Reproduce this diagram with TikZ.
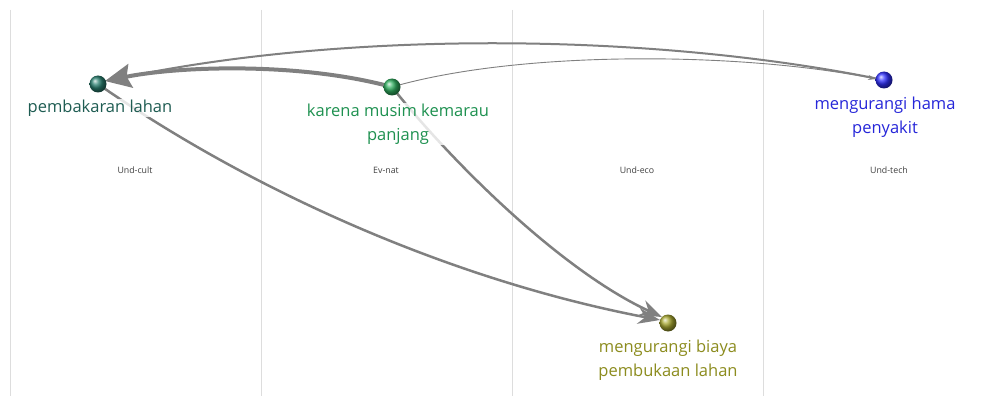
\documentclass[tikz,border=0pt]{standalone}
\usepackage{fontspec}
\setmainfont{Open Sans}
\usetikzlibrary{arrows.meta}
\definecolor{cCult}{HTML}{1E5C52}
\definecolor{cNat}{HTML}{1E9150}
\definecolor{cTech}{HTML}{2626D9}
\definecolor{cEco}{HTML}{8C8C1E}
\definecolor{cBallCult}{HTML}{2A8070}
\definecolor{cBallNat}{HTML}{30B060}
\definecolor{cBallTech}{HTML}{3030FF}
\definecolor{cBallEco}{HTML}{A8A830}
\definecolor{edge}{HTML}{808080}
\definecolor{grid}{HTML}{DDDDDD}
\tikzset{
  ball/.style={circle,minimum size=17pt,inner sep=0pt,shading=ball},
  lbl/.style={align=center,font=\fontsize{16.5}{23.5}\selectfont,fill=white,fill opacity=0.8,text opacity=1,inner sep=1pt},
  col/.style={font=\fontsize{8.8}{10}\selectfont,text=black!75},
  sep/.style={draw=grid,line width=0.8pt},
  edg/.style={draw=edge},
}
\begin{document}
\begin{tikzpicture}[x=1pt,y=-1pt]
\useasboundingbox (0,0) rectangle (1005,396);
\fill[white] (0,0) rectangle (1005,396);
% columns
\foreach \x in {10,261,512,763} \draw[sep] (\x,10) -- (\x,396);
\node[col] (c1) at (135,170) {Und-cult};
\node[col] (c2) at (386,170) {Ev-nat};
\node[col] (c3) at (637,170) {Und-eco};
\node[col] (c4) at (889,170) {Und-tech};
% anchor coordinates
\coordinate (pA) at (98,84);
\coordinate (kA) at (392,87);
\coordinate (hA) at (884,80);
\coordinate (bA) at (668,323);
% edges
\draw[edg,line width=2pt] (hA) .. controls (640,30) and (330,32) .. (112,80);
\draw[edg,line width=0.9pt,-{Stealth[length=8pt,width=5pt]}] (kA) .. controls (520,50) and (740,52) .. (876,79);
\draw[edg,line width=4pt,-{Stealth[length=26pt,width=24pt,inset=4pt]}] (kA) .. controls (300,62) and (180,66) .. (105,81);
\draw[edg,line width=2.5pt,-{Stealth[length=22pt,width=16pt]}] (pA) .. controls (250,190) and (450,280) .. (660,320);
\draw[edg,line width=2.5pt,-{Stealth[length=22pt,width=16pt]}] (kA) .. controls (450,160) and (560,270) .. (662,317);
% labels
\node[lbl,text=cCult] (pL) at (100,108) {pembakaran lahan};
\node[lbl,text=cNat] (kL) at (398,124) {karena musim kemarau\\panjang};
\node[lbl,text=cTech] (hL) at (885,117) {mengurangi hama\\penyakit};
\node[lbl,text=cEco] (bL) at (668,360) {mengurangi biaya\\pembukaan lahan};
% balls
\node[ball,ball color=cBallCult] (p) at (pA) {};
\node[ball,ball color=cBallNat] (k) at (kA) {};
\node[ball,ball color=cBallTech] (h) at (hA) {};
\node[ball,ball color=cBallEco] (b) at (bA) {};
\end{tikzpicture}
\end{document}
